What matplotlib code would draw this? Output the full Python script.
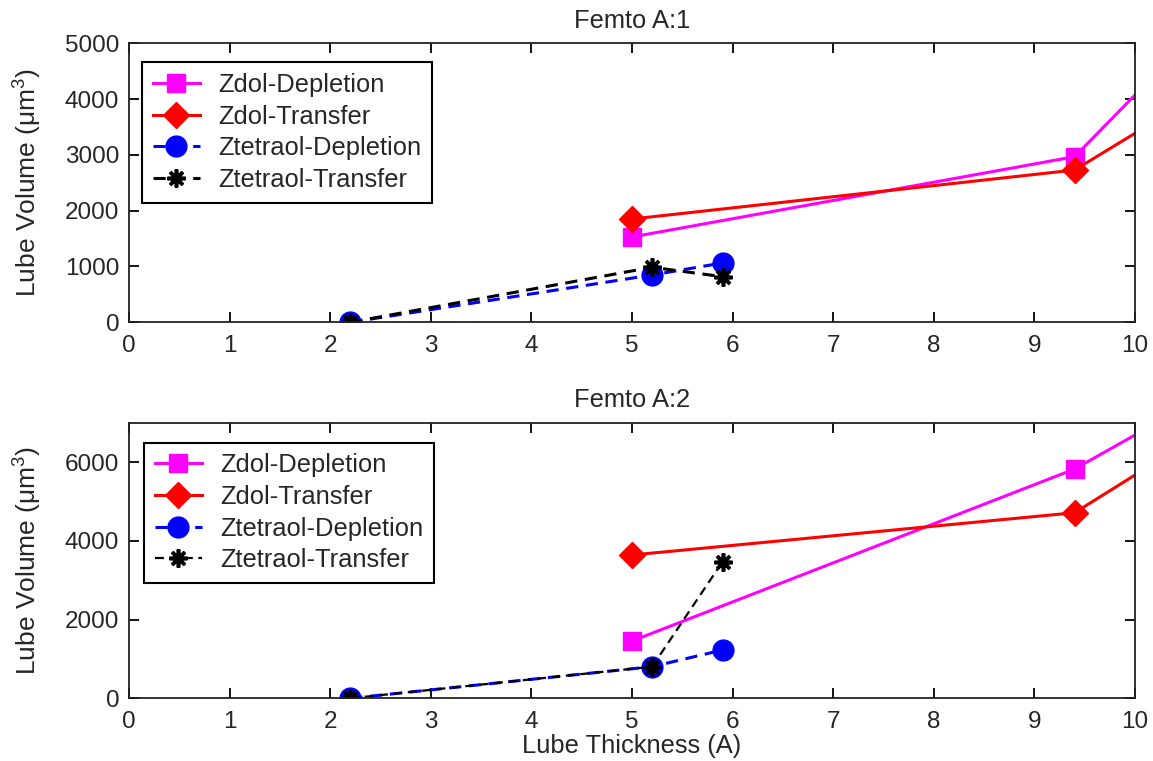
import matplotlib
matplotlib.use("Agg")
import matplotlib.pyplot as plt

plt.rcParams["font.family"] = ["Liberation Sans", "DejaVu Sans"]
plt.rcParams["mathtext.fontset"] = "custom"
plt.rcParams["mathtext.rm"] = "Liberation Sans"
plt.rcParams["mathtext.default"] = "regular"

# Lube thickness (A) and lube volume (um^3) for each series
zdol_x = [5.0, 9.4, 12.0]
ztet_x = [2.2, 5.2, 5.9]

a1_zdol_depletion = [1529, 2968, 7757]
a1_zdol_transfer = [1851, 2729, 5581]
a1_ztet_depletion = [0, 848, 1063]
a1_ztet_transfer = [0, 986, 817]

a2_zdol_depletion = [1455, 5824, 9568]
a2_zdol_transfer = [3640, 4714, 8866]
a2_ztet_depletion = [0, 803, 1227]
a2_ztet_transfer = [0, 803, 3470]

series_labels = ["Zdol-Depletion", "Zdol-Transfer",
                 "Ztetraol-Depletion", "Ztetraol-Transfer"]
titles = ["Femto A:1", "Femto A:2"]
x_ticks = list(range(0, 11))
y_ticks_a1 = [0, 1000, 2000, 3000, 4000, 5000]
y_ticks_a2 = [0, 2000, 4000, 6000]

TXT = "#262626"
FS_TICK = 17.5
FS = 18.4

fig = plt.figure(figsize=(11.53, 7.61), dpi=100)
ax1 = fig.add_axes([0.1119, 0.5765, 0.8725, 0.3666])
ax2 = fig.add_axes([0.1119, 0.0824, 0.8725, 0.3621])


def draw(ax, zd, zt, td, tt, yticks, ymax, title, leg_anchor, black_lw):
    ax.plot(zdol_x, zd, color="#ff00ff", lw=2.2, marker="s", ms=13.5,
            mec="#ff00ff", label=series_labels[0])
    ax.plot(zdol_x, zt, color="#ff0000", lw=2.2, marker="D", ms=13,
            mec="#ff0000", label=series_labels[1])
    ax.plot(ztet_x, td, color="#0000ff", lw=2.2, ls=(0, (4, 2.5)),
            marker="o", ms=15, mec="#0000ff", label=series_labels[2])
    ax.plot(ztet_x, tt, color="black", lw=black_lw, ls=(0, (4, 2.5)),
            marker=(8, 2, 0), ms=13, mew=2.6, label=series_labels[3])
    ax.set_xlim(0, 10)
    ax.set_ylim(0, ymax)
    ax.set_xticks(x_ticks)
    ax.set_yticks(yticks)
    ax.tick_params(direction="in", top=True, right=True, length=7,
                   width=1.3, labelsize=FS_TICK, labelcolor=TXT)
    ax.tick_params(axis="x", pad=9)
    ax.tick_params(axis="y", pad=7)
    for s in ax.spines.values():
        s.set_linewidth(1.3)
        s.set_color("#222222")
    ax.set_title(title, fontsize=FS, color=TXT, pad=11)
    ax.set_ylabel("Lube Volume (μm$^{3}$)", fontsize=19, color=TXT,
                  labelpad=15)
    leg = ax.legend(loc="upper left", bbox_to_anchor=leg_anchor,
                    borderaxespad=0, fontsize=FS, fancybox=False,
                    framealpha=1, edgecolor="black", handlelength=1.85,
                    handletextpad=0.7, labelspacing=0.3,
                    borderpad=0.42)
    leg.get_frame().set_linewidth(1.5)
    for t in leg.get_texts():
        t.set_color(TXT)


draw(ax1, a1_zdol_depletion, a1_zdol_transfer, a1_ztet_depletion,
     a1_ztet_transfer, y_ticks_a1, 5000, titles[0], (0.013, 0.932), 2.2)
draw(ax2, a2_zdol_depletion, a2_zdol_transfer, a2_ztet_depletion,
     a2_ztet_transfer, y_ticks_a2, 7000, titles[1], (0.015, 0.928), 1.6)
ax2.set_xlabel("Lube Thickness (A)", fontsize=FS, color=TXT, labelpad=1)

fig.savefig("out.png", dpi=100)
